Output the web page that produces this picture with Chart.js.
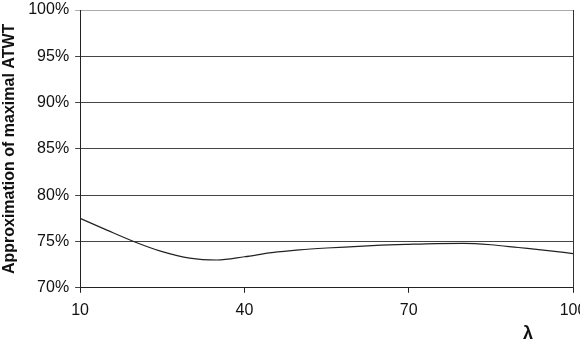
<!DOCTYPE html>
<html>
<head>
<meta charset="utf-8">
<script src="https://cdn.jsdelivr.net/npm/chart.js@4/dist/chart.umd.min.js"></script>
<style>
  html, body { margin: 0; padding: 0; background: #fff; overflow: hidden; }
  #wrap { width: 580px; height: 343px; position: relative; }
</style>
</head>
<body>
<div id="wrap"><canvas id="chart"></canvas></div>
<script>
// lambda values along the x axis
const lambdas = [10, 15, 20, 25, 30, 35, 40, 45, 50, 55, 60, 65, 70, 75, 80, 85, 90, 95, 100];
// approximation of maximal ATWT, in percent
const approx = [77.5, 76.2, 74.95, 73.9, 73.2, 73.0, 73.35, 73.8, 74.1, 74.3, 74.45, 74.6, 74.7, 74.78, 74.8, 74.65, 74.35, 74.05, 73.7];
const xTicks = [10, 40, 70, 100];
const yTicks = [70, 75, 80, 85, 90, 95, 100];

const font = 'Arial, "Liberation Sans", sans-serif';

// draws the lambda label under the axis and the box round the plot
const extras = {
  id: 'extras',
  afterDraw(chart) {
    const ctx = chart.ctx;
    const a = chart.chartArea;
    ctx.save();
    ctx.strokeStyle = '#333';
    ctx.lineWidth = 1;
    ctx.beginPath();
    ctx.moveTo(Math.round(a.right) + 0.5, a.top);
    ctx.lineTo(Math.round(a.right) + 0.5, a.bottom);
    ctx.stroke();
    ctx.fillStyle = '#111';
    ctx.font = 'bold 18px ' + font;
    ctx.textAlign = 'center';
    ctx.textBaseline = 'middle';
    ctx.fillText('λ', 528, 334);
    ctx.restore();
  }
};

new Chart(document.getElementById('chart'), {
  type: 'line',
  data: {
    datasets: [{
      data: lambdas.map((x, i) => ({ x: x, y: approx[i] })),
      borderColor: '#222',
      borderWidth: 1.2,
      pointRadius: 0,
      cubicInterpolationMode: 'monotone',
      fill: false
    }]
  },
  options: {
    responsive: true,
    maintainAspectRatio: false,
    animation: false,
    layout: { padding: { left: 0, right: 7, top: 10, bottom: 15 } },
    plugins: { legend: { display: false }, tooltip: { enabled: false } },
    scales: {
      x: {
        type: 'linear',
        min: 10,
        max: 100,
        afterBuildTicks(scale) { scale.ticks = xTicks.map(v => ({ value: v })); },
        afterFit(scale) { scale.paddingRight = 0; scale.paddingLeft = 0; },
        ticks: {
          color: '#111',
          font: { family: font, size: 16 },
          padding: 8,
          maxRotation: 0
        },
        grid: { drawOnChartArea: false, color: '#222', tickLength: 5 },
        border: { color: '#222', width: 1 }
      },
      y: {
        min: 70,
        max: 100,
        afterBuildTicks(scale) { scale.ticks = yTicks.map(v => ({ value: v })); },
        afterFit(scale) { scale.paddingTop = 0; scale.paddingBottom = 0; },
        ticks: {
          color: '#111',
          font: { family: font, size: 16 },
          padding: 6,
          callback: v => v + '%'
        },
        grid: {
          color: ctx => ctx.tick && ctx.tick.value === 100 ? '#aaa' : '#444',
          tickLength: 5
        },
        border: { color: '#222', width: 1 },
        title: {
          display: true,
          text: 'Approximation of maximal ATWT',
          color: '#111',
          font: { family: font, size: 16, weight: 'bold' },
          padding: { top: 0, bottom: 3 }
        }
      }
    }
  },
  plugins: [extras]
});
</script>
</body>
</html>
